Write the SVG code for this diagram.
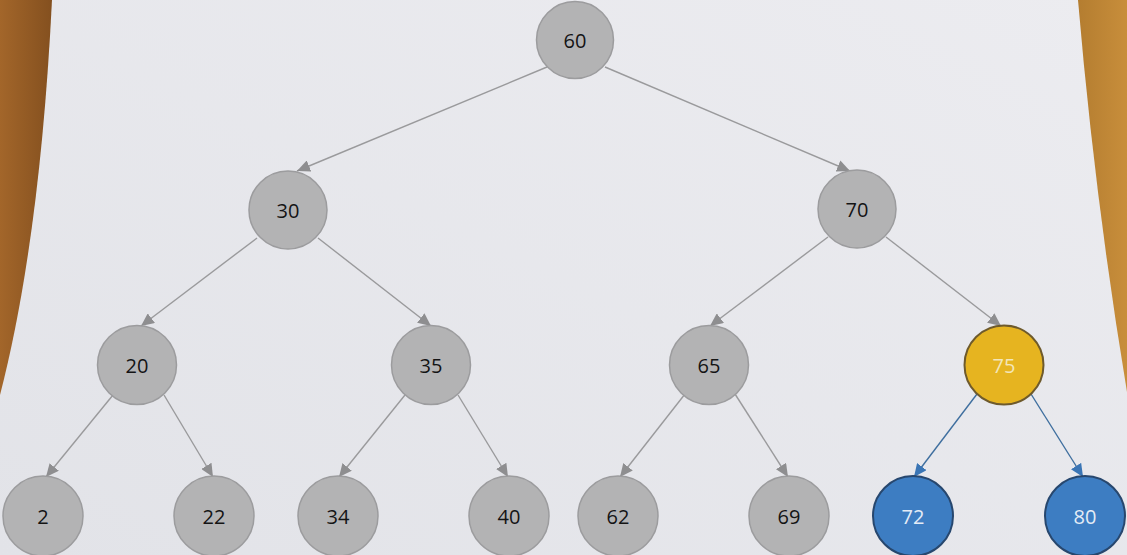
<svg xmlns="http://www.w3.org/2000/svg" width="1127" height="555" viewBox="0 0 1127 555">
<style>
.g circle{fill:#b3b3b4;stroke:#9c9c9e;stroke-width:1.5}
.y circle{fill:#e6b420;stroke:#6e5a2c;stroke-width:2}
.b circle{fill:#3d7dc2;stroke:#27476e;stroke-width:2}
text{font-family:"Open Sans","Liberation Sans",sans-serif;font-size:20px;text-anchor:middle;dominant-baseline:central}
.g text{fill:#141414}
.y text{fill:#f3e6b8}
.b text{fill:#e4ecf6}
.e line{stroke:#9a9a9c;stroke-width:1.4;marker-end:url(#ag)}
.e line.bl{stroke:#3f6f9f;marker-end:url(#ab)}
</style>
<defs>
<marker id="ag" markerUnits="userSpaceOnUse" markerWidth="14" markerHeight="12" refX="13" refY="6" orient="auto"><path d="M0,0 L13,6 L0,12 Z" fill="#8e8e90"/></marker>
<marker id="ab" markerUnits="userSpaceOnUse" markerWidth="14" markerHeight="12" refX="13" refY="6" orient="auto"><path d="M0,0 L13,6 L0,12 Z" fill="#3a75b5"/></marker>
<linearGradient id="paper" x1="0" y1="1" x2="1" y2="0"><stop offset="0" stop-color="#e2e3e8"/><stop offset="1" stop-color="#ececf0"/></linearGradient>
<linearGradient id="wood" x1="0" y1="0" x2="1" y2="0"><stop offset="0" stop-color="#a3662a"/><stop offset="1" stop-color="#84501f"/></linearGradient>
<linearGradient id="wood2" x1="0" y1="0" x2="1" y2="0"><stop offset="0" stop-color="#b47d30"/><stop offset="1" stop-color="#c88e3b"/></linearGradient>
</defs>
<rect width="1127" height="555" fill="url(#paper)"/>
<path d="M0,0 L52,0 Q40,240 0,395 Z" fill="url(#wood)"/>
<path d="M1078,0 L1127,0 L1127,392 Q1095,200 1078,0 Z" fill="url(#wood2)"/>
<g class="e">
<line x1="547" y1="67" x2="297" y2="171"/>
<line x1="605" y1="67" x2="850" y2="171"/>
<line x1="257" y1="238" x2="141" y2="326"/>
<line x1="318" y1="238" x2="431" y2="326"/>
<line x1="828" y1="237" x2="710" y2="326"/>
<line x1="886" y1="237" x2="1001" y2="326"/>
<line x1="113" y1="395" x2="46" y2="477"/>
<line x1="164" y1="395" x2="213" y2="477"/>
<line x1="405" y1="395" x2="339" y2="477"/>
<line x1="458" y1="395" x2="508" y2="477"/>
<line x1="685" y1="394" x2="620" y2="477"/>
<line x1="735" y1="394" x2="788" y2="477"/>
<line class="bl" x1="977" y1="394" x2="914" y2="477"/>
<line class="bl" x1="1031" y1="394" x2="1083" y2="477"/>
</g>
<g id="n60" class="g"><circle cx="575" cy="40" r="38.5"/><text x="575" y="40">60</text></g>
<g id="n30" class="g"><circle cx="288" cy="210" r="39"/><text x="288" y="210">30</text></g>
<g id="n70" class="g"><circle cx="857" cy="209" r="39"/><text x="857" y="209">70</text></g>
<g id="n20" class="g"><circle cx="137" cy="365" r="39.5"/><text x="137" y="365">20</text></g>
<g id="n35" class="g"><circle cx="431" cy="365" r="39.5"/><text x="431" y="365">35</text></g>
<g id="n65" class="g"><circle cx="709" cy="365" r="39.5"/><text x="709" y="365">65</text></g>
<g id="n75" class="y"><circle cx="1004" cy="365" r="39.5"/><text x="1004" y="365">75</text></g>
<g id="n2" class="g"><circle cx="43" cy="516" r="40"/><text x="43" y="516">2</text></g>
<g id="n22" class="g"><circle cx="214" cy="516" r="40"/><text x="214" y="516">22</text></g>
<g id="n34" class="g"><circle cx="338" cy="516" r="40"/><text x="338" y="516">34</text></g>
<g id="n40" class="g"><circle cx="509" cy="516" r="40"/><text x="509" y="516">40</text></g>
<g id="n62" class="g"><circle cx="618" cy="516" r="40"/><text x="618" y="516">62</text></g>
<g id="n69" class="g"><circle cx="789" cy="516" r="40"/><text x="789" y="516">69</text></g>
<g id="n72" class="b"><circle cx="913" cy="516" r="40"/><text x="913" y="516">72</text></g>
<g id="n80" class="b"><circle cx="1085" cy="516" r="40"/><text x="1085" y="516">80</text></g>
</svg>
